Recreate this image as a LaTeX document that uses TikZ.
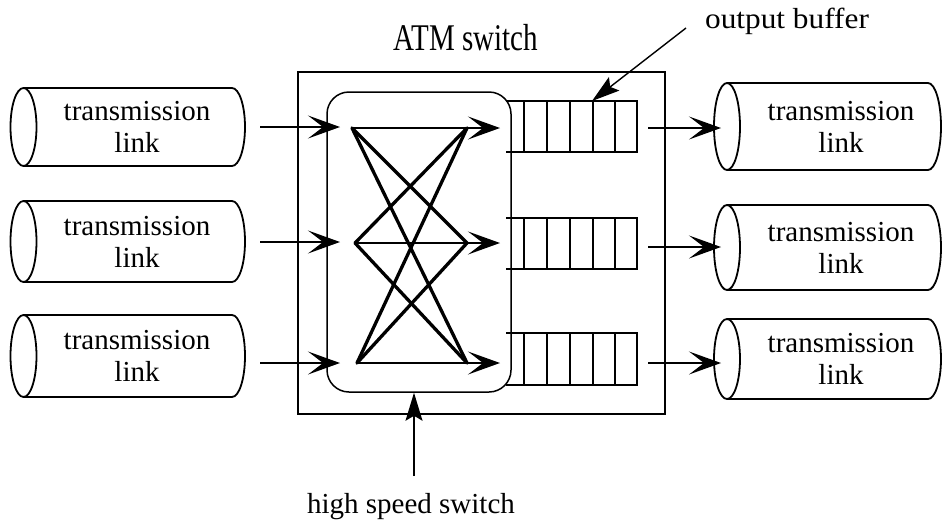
\documentclass[tikz,border=0pt]{standalone}
\usepackage{fontspec}
\setmainfont{Liberation Serif}
\usetikzlibrary{arrows.meta}
\newcommand{\mycyl}[4]{% left x, right x, centre y, y radius
  \draw[cylline] (#1,#3) ellipse [x radius=13, y radius=#4];
  \draw[cylline] (#1,#3-#4) -- (#2,#3-#4);
  \draw[cylline] (#1,#3+#4) -- (#2,#3+#4);
  \begin{scope}
    \clip (#2,#3-#4-4) rectangle (#2+20,#3+#4+4);
    \draw[cylline] (#2,#3) ellipse [x radius=13, y radius=#4];
  \end{scope}}
\begin{document}
\begin{tikzpicture}[x=1pt,y=-1pt,
  cylline/.style={line width=1.8pt},
  cyltext/.style={font=\fontsize{29}{32}\selectfont, align=center, inner sep=0pt},
  bigarr/.style={line width=1.3pt, -{Stealth[length=32pt,width=23pt,inset=15pt]}},
  xarr/.style={line width=2pt, -{Stealth[length=32pt,width=23pt,inset=15pt]}},
  uparr/.style={line width=1.4pt, -{Stealth[length=28pt,width=17pt,inset=5pt]}},
  diag/.style={line width=3.3pt, line cap=round},
  bufline/.style={line width=1.6pt},
  lbl/.style={font=\fontsize{29}{32}\selectfont, anchor=base, inner sep=0pt}]
\useasboundingbox (0,0) rectangle (942,523);

% switch boxes
\node[draw, line width=1.8pt, minimum width=367pt, minimum height=342pt, inner sep=0pt] (atm) at (481.5,243) {};
\node[draw, line width=1.5pt, rounded corners=22pt, minimum width=184pt, minimum height=300pt, inner sep=0pt] (hss) at (419,242) {};

% labels
\node[lbl] (title) at (466,50) {\scalebox{1}[1.3]{ATM switch}};
\node[lbl] (oblbl) at (787,28) {\scalebox{1.08}[1]{output buffer}};
\node[lbl] (hslbl) at (411,513) {high speed switch};

% input cylinders
\mycyl{23.5}{232}{127}{39}
\mycyl{23.5}{232}{241.5}{40.5}
\mycyl{23.5}{232}{356}{41}
\node[cyltext] (in1) at (137,127) {transmission\\link};
\node[cyltext] (in2) at (137,241.5) {transmission\\link};
\node[cyltext] (in3) at (137,356) {transmission\\link};

% output cylinders
\mycyl{727}{928}{126.5}{43.5}
\mycyl{727}{928}{247.5}{42.5}
\mycyl{727}{928}{359}{40}
\node[cyltext] (out1) at (841,126.5) {transmission\\link};
\node[cyltext] (out2) at (841,247.5) {transmission\\link};
\node[cyltext] (out3) at (841,359) {transmission\\link};

% crossbar points
\coordinate (L1) at (352,128);
\coordinate (L2) at (355,243);
\coordinate (L3) at (357,363);
\coordinate (R1) at (467,128);
\coordinate (R2) at (467,243);
\coordinate (R3) at (467,363);
\coordinate (T1) at (500,128);
\coordinate (T2) at (500,243);
\coordinate (T3) at (500,363);

% input arrows
\coordinate (ia1) at (260,127);
\coordinate (ia2) at (260,242);
\coordinate (ia3) at (260,363);
\coordinate (ib1) at (340,127);
\coordinate (ib2) at (340,242);
\coordinate (ib3) at (340,363);
\draw[bigarr] (ia1) -- (ib1);
\draw[bigarr] (ia2) -- (ib2);
\draw[bigarr] (ia3) -- (ib3);

% crossbar
\draw[xarr] (L1) -- (T1);
\draw[xarr] (L2) -- (T2);
\draw[xarr] (L3) -- (T3);
\draw[diag] (L1) -- (R2);
\draw[diag] (L1) -- (R3);
\draw[diag] (L2) -- (R1);
\draw[diag] (L2) -- (R3);
\draw[diag] (L3) -- (R1);
\draw[diag] (L3) -- (R2);

% output buffers
\foreach \t/\b in {101/152, 218/269, 333/385}{
  \draw[bufline] (506,\t) -- (637,\t) -- (637,\b) -- (506,\b);
  \foreach \x in {524,547,570,593,615}{
    \draw[bufline] (\x,\t) -- (\x,\b);
  }
}
\coordinate (buf1) at (592,101);

% output arrows
\coordinate (oa1) at (648,128);
\coordinate (oa2) at (648,247);
\coordinate (oa3) at (648,363);
\coordinate (ob1) at (721,128);
\coordinate (ob2) at (721,247);
\coordinate (ob3) at (721,363);
\draw[bigarr] (oa1) -- (ob1);
\draw[bigarr] (oa2) -- (ob2);
\draw[bigarr] (oa3) -- (ob3);

% label pointers
\coordinate (obs) at (686,28);
\draw[uparr] (obs) -- (buf1);
\coordinate (hsa) at (414,476);
\draw[uparr] (hsa) -- (hsa |- hss.south);
\end{tikzpicture}
\end{document}
